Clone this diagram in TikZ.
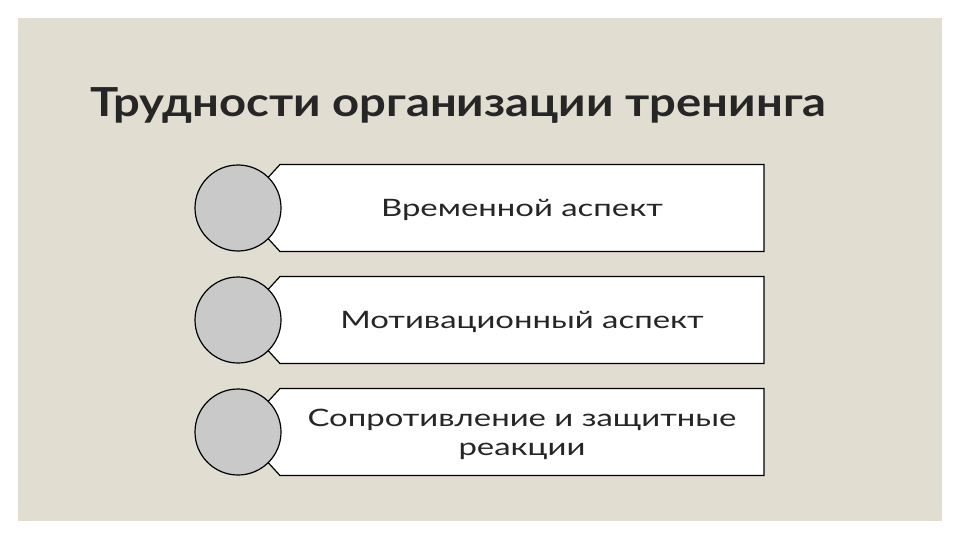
\documentclass[tikz,border=0pt]{standalone}
\usepackage{fontspec}
\setmainfont{Lato}
\newfontfamily\titlefont[FakeStretch=1.18]{Lato}
\newfontfamily\bodyfont[FakeStretch=1.37]{Lato}
\definecolor{bgbeige}{HTML}{E1DDD1}
\definecolor{circgray}{HTML}{C9C9C9}
\definecolor{txt}{HTML}{262626}
\begin{document}
\begin{tikzpicture}[x=1pt,y=-1pt,
  itembox/.style={draw=black,line width=1.2pt,fill=white},
  itemcirc/.style={draw=black,line width=1.2pt,fill=circgray},
  itemtext/.style={align=center,font=\bodyfont\fontsize{24}{29}\selectfont,text=txt}]
\useasboundingbox (0,0) rectangle (960,540);
\fill[white] (0,0) rectangle (960,540);
\fill[bgbeige] (18,18) rectangle (942,521);
\node[anchor=base west,inner sep=0,font=\titlefont\bfseries\fontsize{40}{48}\selectfont,text=txt] (title) at (90,117) {Трудности организации тренинга};
\foreach \i/\cy/\t in {1/208/{Временной аспект},2/320/{Мотивационный аспект},3/432/{Сопротивление и защитные\\реакции}}{
  \draw[itembox] (280,\cy-43.5) -- (764,\cy-43.5) -- (764,\cy+43.5) -- (280,\cy+43.5) -- (240,\cy) -- cycle;
  \node[itemcirc,circle,minimum size=86pt,inner sep=0] (c\i) at (238,\cy) {};
  \node[itemtext] (t\i) at (522,\cy+2) {\t};
}
\end{tikzpicture}
\end{document}
